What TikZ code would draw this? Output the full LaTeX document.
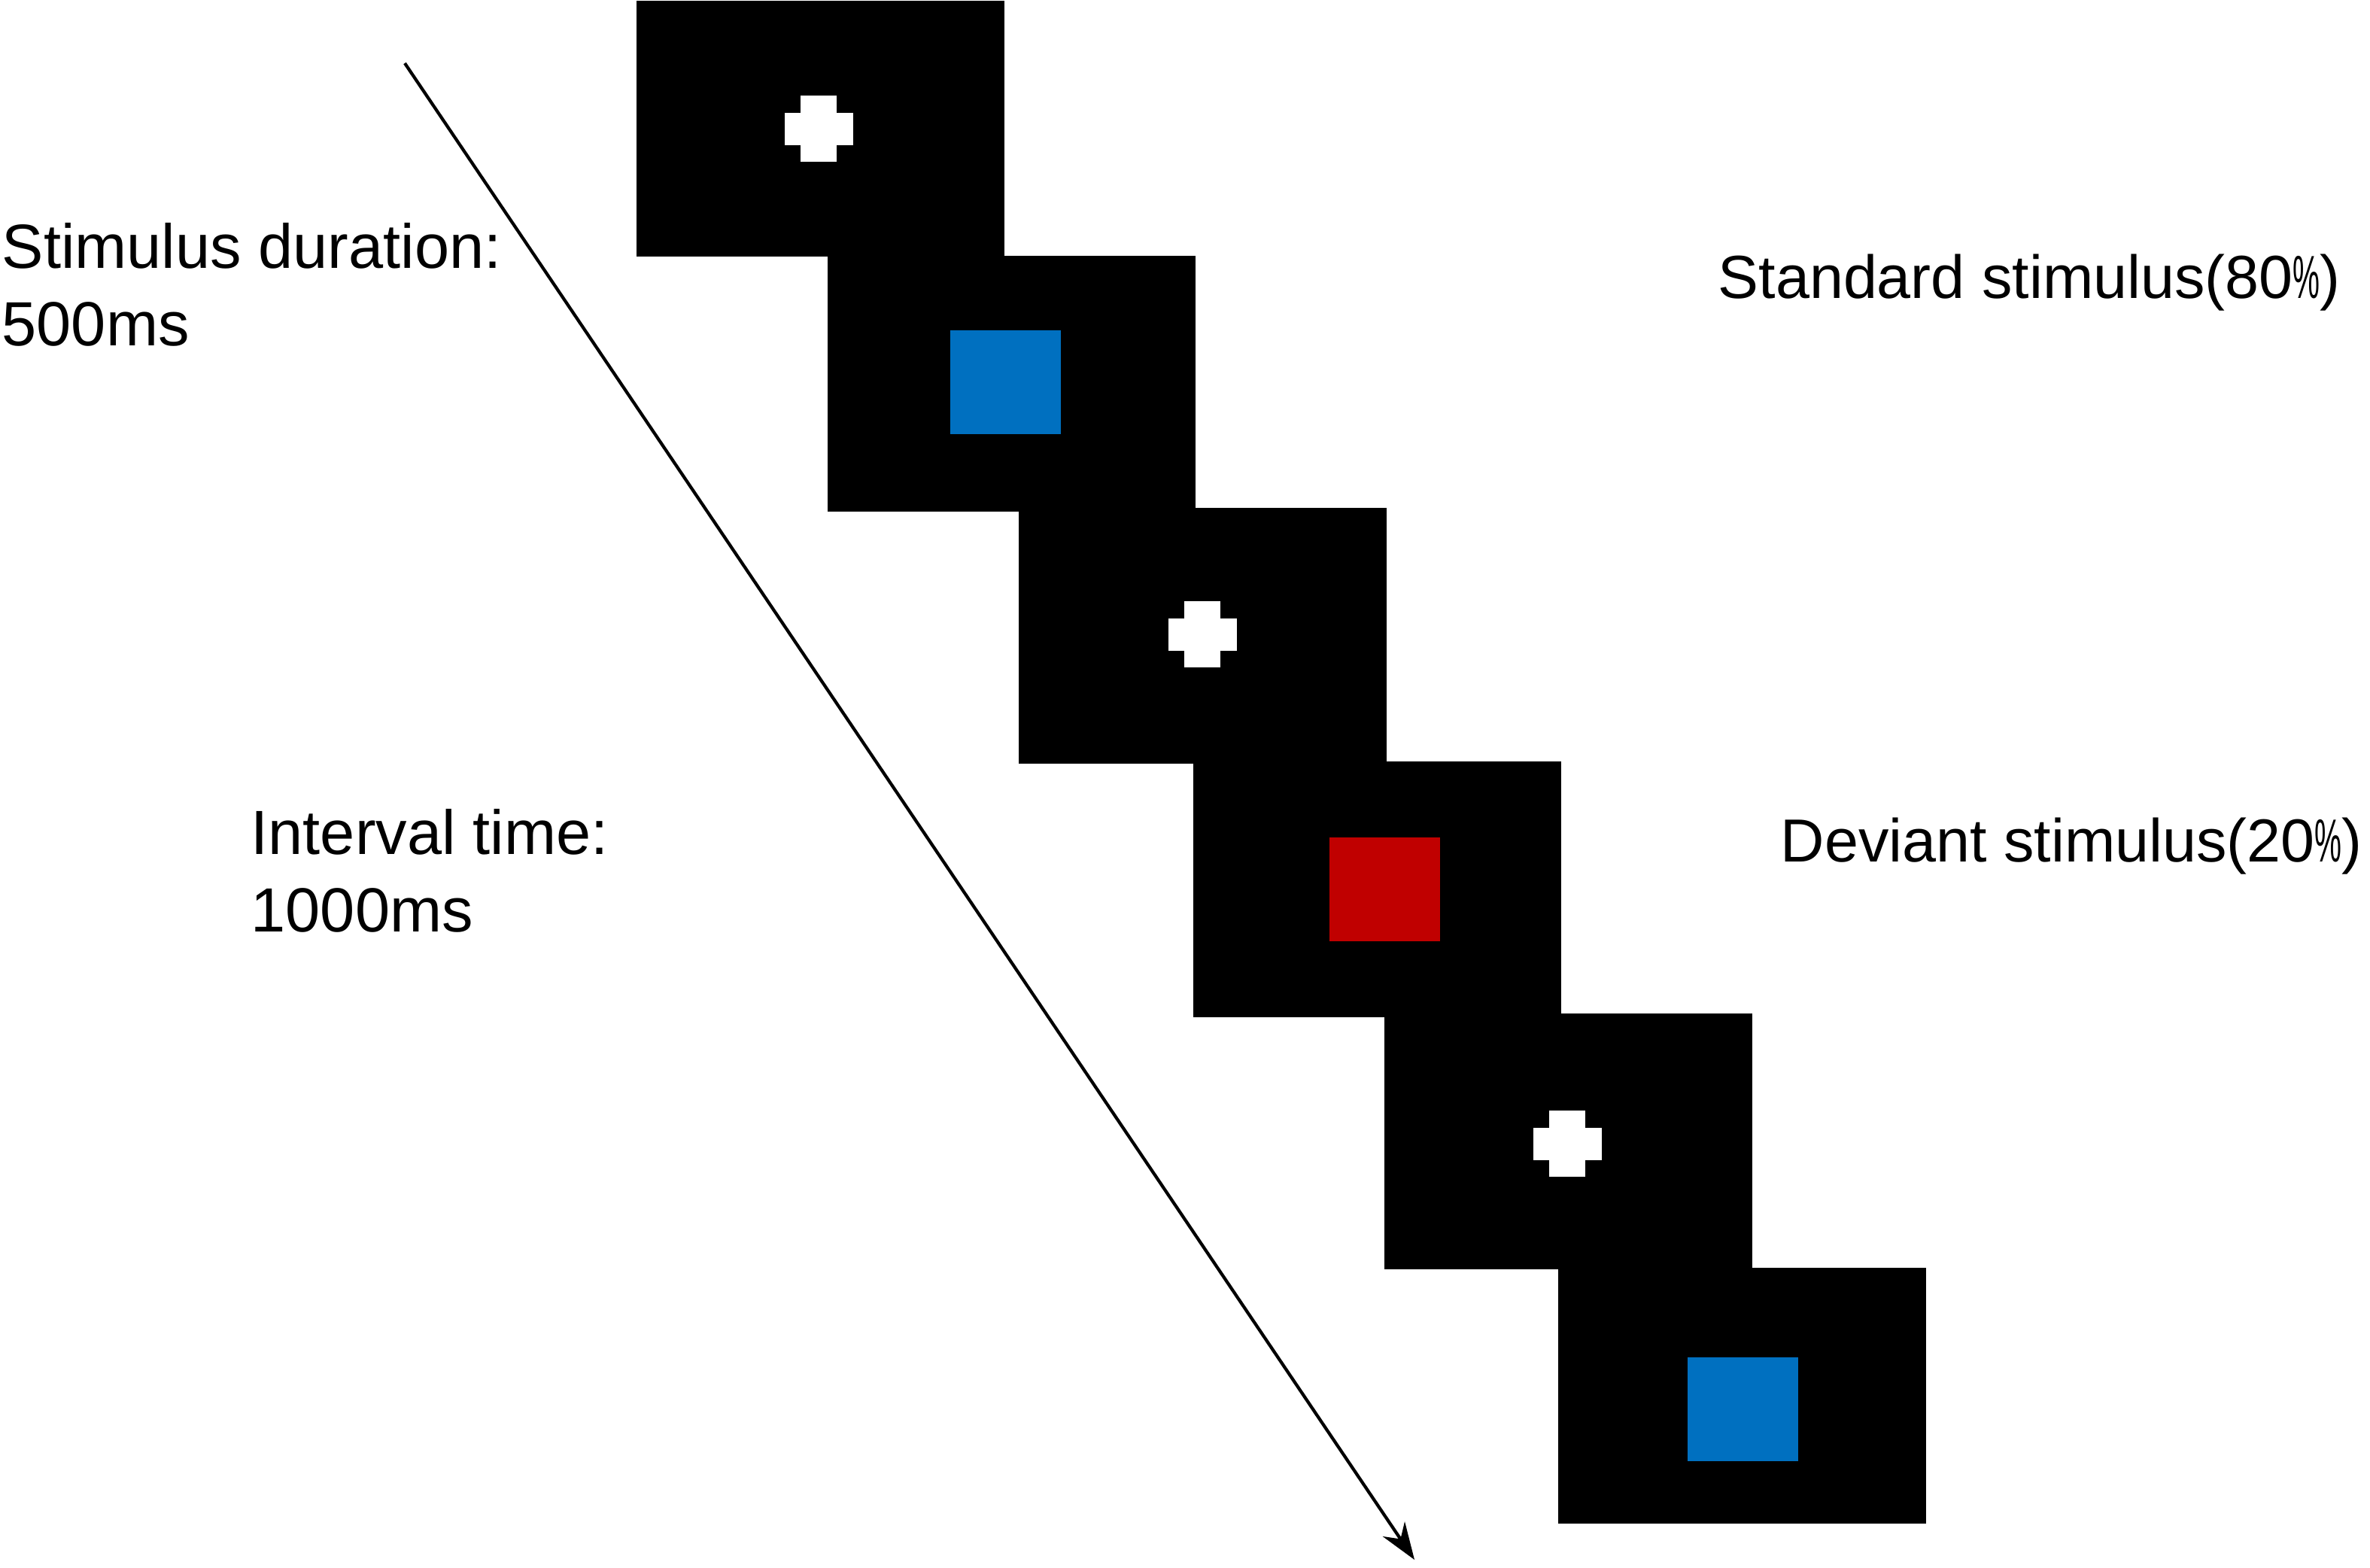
\documentclass[tikz,border=0pt]{standalone}
\usepackage{fontspec}
\setmainfont{Liberation Sans}
\usetikzlibrary{arrows.meta}
\definecolor{stdblue}{HTML}{0070C0}
\definecolor{devred}{HTML}{C00000}
\newcommand{\narrowpct}{\scalebox{0.5}[1]{\%}}

\begin{document}
\begin{tikzpicture}
		\useasboundingbox (0,0) rectangle (31.5,-20.83);
		\tikzstyle{screen}=[rectangle,fill=black,minimum width=4.89cm,minimum height=3.4cm,inner sep=0pt]
		\tikzstyle{target}=[rectangle,minimum width=1.47cm,minimum height=1.38cm,inner sep=0pt]
		\tikzstyle{note}=[anchor=base west,inner sep=0pt,align=left,font={\fontsize{23.6}{29.2}\selectfont}]
		\tikzstyle{sidenote}=[anchor=base west,inner sep=0pt,font={\fontsize{23}{28}\selectfont}]
		\tikzset{fixation/.pic={
				\fill[white] (-0.455,-0.215) rectangle (0.455,0.215);
				\fill[white] (-0.24,-0.44) rectangle (0.24,0.44);
		}}
		% screens
		\foreach \i/\x/\y in {1/10.90/-1.705,2/13.445/-5.10,3/15.985/-8.45,4/18.30/-11.82,5/20.84/-15.17,6/23.155/-18.545}{
			\node[screen] (scr_\i) at (\x,\y) {};
		}
		\pic at (10.88,-1.71) {fixation};
		\node[target,fill=stdblue] (std_1) at (13.365,-5.08) {};
		\pic at (15.98,-8.43) {fixation};
		\node[target,fill=devred] (dev_1) at (18.40,-11.82) {};
		\pic at (20.83,-15.20) {fixation};
		\node[target,fill=stdblue] (std_2) at (23.165,-18.73) {};
		% time arrow
		\coordinate (t_start) at (5.38,-0.84);
		\coordinate (t_end) at (18.80,-20.73);
		\draw[line width=1.2pt,-{Stealth[length=14pt,width=10pt]}] (t_start) -- (t_end);
		% labels
		\node[note] (dur) at (0.02,-4.59) {Stimulus duration:\\500ms};
		\node[note] (isi) at (3.33,-12.38) {Interval time:\\1000ms};
		\node[sidenote] (std_txt) at (22.83,-3.96) {Standard stimulus(80\narrowpct)};
		\node[sidenote] (dev_txt) at (23.66,-11.45) {Deviant stimulus(20\narrowpct)};
	\end{tikzpicture}
\end{document}
